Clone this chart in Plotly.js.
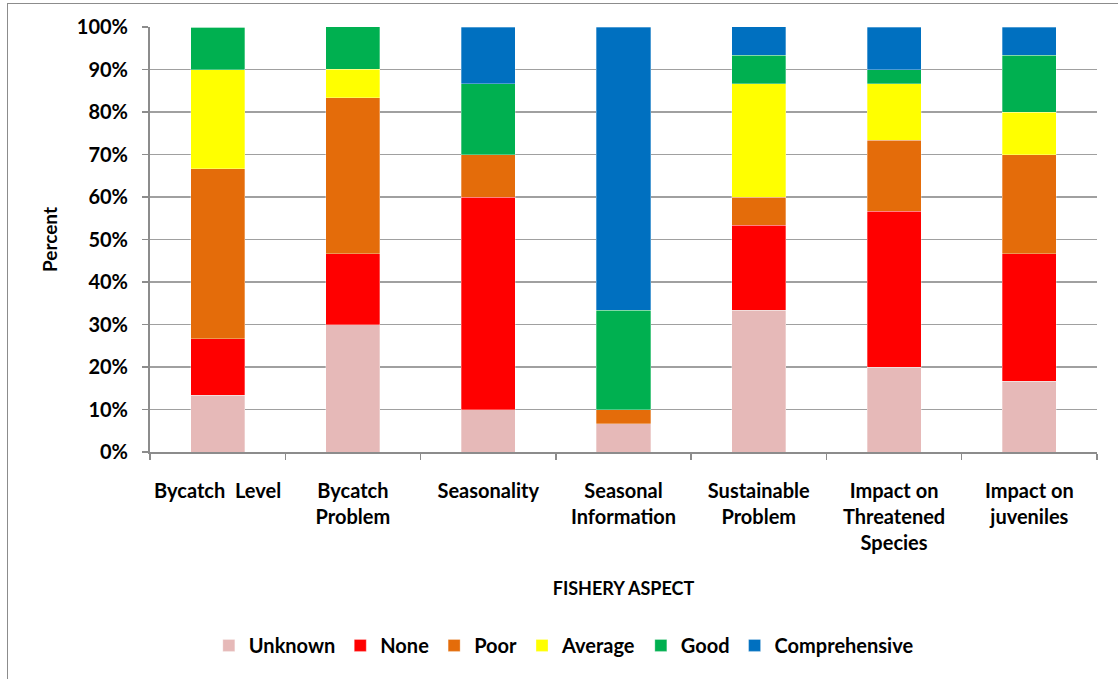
<!DOCTYPE html>
<html>
<head>
<meta charset="utf-8">
<script src="https://cdn.plot.ly/plotly-3.0.1.min.js"></script>
<style>
  html, body { margin: 0; padding: 0; background: #fff; overflow: hidden; }
  #frame {
    position: absolute; left: 7px; top: 3px;
    width: 1120px; height: 690px;
    border-left: 1px solid #8c8c8c; border-top: 1px solid #8c8c8c;
  }
  #chart { width: 1110px; height: 675px; }
</style>
</head>
<body>
<div id="frame"><div id="chart"></div></div>
<script>
// ========== Data (percent of responses per fishery aspect) ==========
const aspects = [
  'Bycatch  Level',
  'Bycatch<br>Problem',
  'Seasonality',
  'Seasonal<br>Information',
  'Sustainable<br>Problem',
  'Impact on<br>Threatened<br>Species',
  'Impact on<br>juveniles'
];

const unknownPct       = [13.33, 30.00, 10.00,  6.67, 33.33, 20.00, 16.67];
const nonePct          = [13.33, 16.67, 50.00,  0.00, 20.00, 36.67, 30.00];
const poorPct          = [40.00, 36.67, 10.00,  3.33,  6.67, 16.67, 23.33];
const averagePct       = [23.33,  6.67,  0.00,  0.00, 26.67, 13.33, 10.00];
const goodPct          = [10.00, 10.00, 16.67, 23.33,  6.67,  3.33, 13.33];
const comprehensivePct = [ 0.00,  0.00, 13.33, 66.67,  6.67, 10.00,  6.67];

const yTickVals = [0, 10, 20, 30, 40, 50, 60, 70, 80, 90, 100];
const yTickText = ['0%', '10%', '20%', '30%', '40%', '50%', '60%', '70%', '80%', '90%', '100%'];

// ========== Traces ==========
const series = [
  { name: 'Unknown',       values: unknownPct,       color: '#E6B9B8' },
  { name: 'None',          values: nonePct,          color: '#FF0000' },
  { name: 'Poor',          values: poorPct,          color: '#E46C0A' },
  { name: 'Average',       values: averagePct,       color: '#FFFF00' },
  { name: 'Good',          values: goodPct,          color: '#00B050' },
  { name: 'Comprehensive', values: comprehensivePct, color: '#0070C0' }
];

const traces = series.map(s => ({
  type: 'bar',
  name: s.name,
  x: aspects,
  y: s.values,
  marker: { color: s.color, line: { color: 'rgba(255,255,255,0.6)', width: 0.5 } }
}));

const boldFont = { family: 'Lato, "Open Sans", sans-serif', size: 20, color: '#000', weight: 'bold' };
const fontAt = size => Object.assign({}, boldFont, { size: size });

const layout = {
  barmode: 'stack',
  bargap: 0.6,
  width: 1110,
  height: 675,
  margin: { l: 142, r: 21, t: 23, b: 227 },
  paper_bgcolor: '#fff',
  plot_bgcolor: '#fff',
  font: boldFont,
  showlegend: true,
  legend: {
    orientation: 'h',
    x: 0.437, xanchor: 'center',
    y: -0.455, yanchor: 'middle',
    font: fontAt(20),
    traceorder: 'normal',
    itemwidth: 30
  },
  xaxis: {
    type: 'category',
    tickson: 'boundaries',
    ticks: 'outside',
    ticklen: 6,
    tickcolor: '#8c8c8c',
    tickwidth: 1.5,
    showline: true,
    linecolor: '#8c8c8c',
    linewidth: 2,
    showgrid: false,
    tickangle: 0,
    tickfont: fontAt(20),
    ticklabelstandoff: 20,
    title: { text: 'FISHERY ASPECT', font: fontAt(18), standoff: 29 }
  },
  yaxis: {
    range: [0, 100],
    tickvals: yTickVals,
    ticktext: yTickText,
    ticks: 'outside',
    ticklen: 6,
    tickcolor: '#8c8c8c',
    tickwidth: 1.5,
    showline: true,
    linecolor: '#8c8c8c',
    linewidth: 2,
    showgrid: true,
    gridcolor: '#a0a0a0',
    gridwidth: 1.5,
    zeroline: false,
    tickfont: fontAt(20),
    ticklabelstandoff: 10,
    title: { text: 'Percent', font: fontAt(19), standoff: 14 }
  }
};

Plotly.newPlot('chart', traces, layout, { displayModeBar: false, staticPlot: true });
</script>
</body>
</html>
